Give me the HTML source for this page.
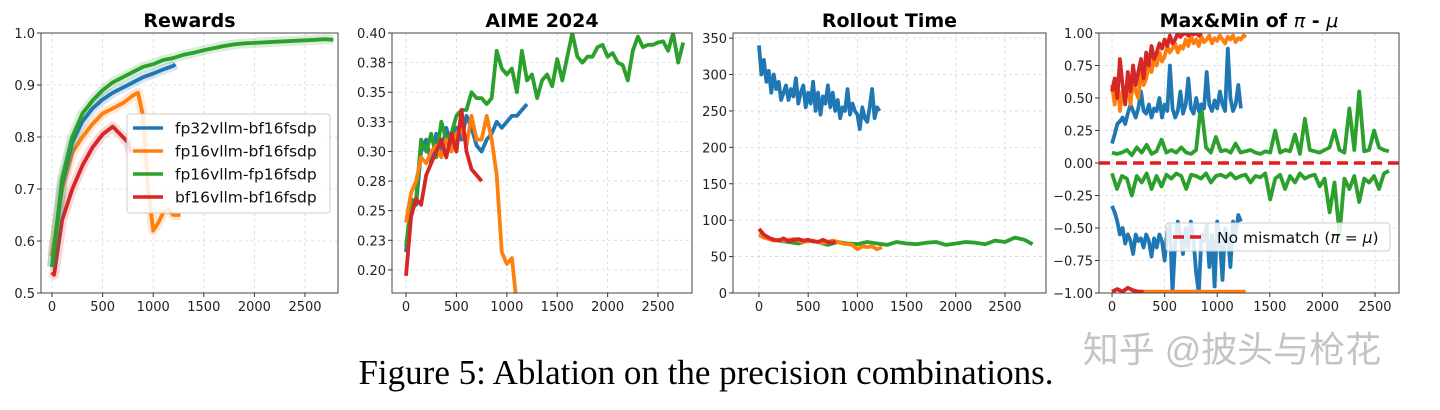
<!DOCTYPE html>
<html><head><meta charset="utf-8"><style>
body{margin:0;background:#fff;width:1440px;height:410px;overflow:hidden}
svg{display:block}
text{font-family:"DejaVu Sans","Liberation Sans",sans-serif}
</style></head><body>
<svg id="fig" width="1440" height="410">
<text x="706" y="384" text-anchor="middle" style="font-family:'Liberation Serif',serif;font-size:35px" fill="#000">Figure 5: Ablation on the precision combinations.</text>
<text x="1232" y="362" text-anchor="middle" style="font-family:'Liberation Sans','Noto Sans CJK SC',sans-serif;font-size:36px" fill="#c4c4c4">知乎 @披头与枪花</text>
</svg>
<script>
const C={b:'#1f77b4',o:'#ff7f0e',g:'#2ca02c',r:'#d62728'};
// Rewards
const rwX1=[0,100,200,300,400,500,600,700,800,900,1000,1100,1200,1300,1400,1500,1600,1700,1800,1900,2000,2100,2200,2300,2400,2500,2600,2700,2780];
const rwGreen=[0.55,0.72,0.80,0.845,0.87,0.89,0.905,0.915,0.925,0.935,0.94,0.948,0.952,0.958,0.962,0.967,0.971,0.975,0.978,0.98,0.981,0.982,0.983,0.984,0.985,0.986,0.987,0.988,0.987];
const rwBlueX=[0,100,200,300,400,500,600,700,800,900,1000,1100,1200,1220];
const rwBlue=[0.55,0.71,0.79,0.83,0.855,0.872,0.885,0.895,0.905,0.915,0.922,0.93,0.937,0.94];
const rwOrangeX=[0,100,200,300,400,500,600,700,800,850,900,950,1000,1050,1100,1150,1200,1270];
const rwOrange=[0.57,0.70,0.77,0.80,0.825,0.845,0.855,0.865,0.88,0.885,0.84,0.70,0.62,0.635,0.655,0.66,0.65,0.65];
const rwRedX=[0,20,100,200,300,400,500,600,650,700,750,780];
const rwRed=[0.54,0.535,0.64,0.70,0.745,0.78,0.805,0.82,0.81,0.80,0.79,0.77];
// AIME
const aiX=[0,50,100,150,200,250,300,350,400,450,500,550,600,650,700,750,800,850,900,950,1000,1050,1100,1150,1200,1250,1300,1350,1400,1450,1500,1550,1600,1650,1700,1750,1800,1850,1900,1950,2000,2050,2100,2150,2200,2250,2300,2350,2400,2450,2500,2550,2600,2650,2700,2750];
const aiBlue=[0.215,0.26,0.255,0.30,0.31,0.29,0.315,0.30,0.32,0.305,0.32,0.31,0.33,0.32,0.305,0.30,0.31,0.315,0.325,0.32,0.325,0.33,0.33,0.335,0.34];
const aiOrange=[0.24,0.265,0.275,0.295,0.29,0.30,0.305,0.295,0.31,0.30,0.315,0.32,0.305,0.33,0.31,0.31,0.33,0.31,0.28,0.215,0.205,0.21,0.17];
const aiGreen=[0.22,0.255,0.26,0.31,0.30,0.315,0.295,0.325,0.31,0.315,0.33,0.335,0.335,0.35,0.345,0.345,0.34,0.345,0.385,0.37,0.365,0.37,0.35,0.385,0.36,0.365,0.345,0.36,0.365,0.355,0.378,0.36,0.38,0.40,0.38,0.375,0.38,0.38,0.388,0.39,0.38,0.383,0.375,0.373,0.36,0.385,0.397,0.388,0.39,0.39,0.392,0.393,0.385,0.40,0.375,0.392];
const aiRed=[0.195,0.245,0.26,0.255,0.28,0.29,0.30,0.31,0.295,0.315,0.30,0.335,0.30,0.285,0.28,0.275];
// Rollout
const roBlueX=[0,25,50,75,100,125,150,175,200,225,250,275,300,325,350,375,400,425,450,475,500,525,550,575,600,625,650,675,700,725,750,775,800,825,850,875,900,925,950,975,1000,1025,1050,1075,1100,1125,1150,1175,1200,1225];
const roBlue=[340,300,320,290,305,275,300,280,290,265,275,285,265,280,270,295,260,275,285,255,275,260,290,250,275,245,270,260,285,255,275,250,265,240,255,250,280,245,260,250,245,225,255,240,235,255,280,240,255,250];
const roGreenX=[0,100,200,300,400,500,600,700,800,900,1000,1100,1200,1300,1400,1500,1600,1700,1800,1900,2000,2100,2200,2300,2400,2500,2600,2700,2780];
const roGreen=[80,75,72,70,68,72,70,66,70,68,67,70,68,66,70,68,67,69,70,66,68,70,69,67,72,70,76,73,67];
const roOrangeX=[0,50,100,150,200,250,300,350,400,450,500,550,600,650,700,750,800,850,900,950,1000,1050,1100,1150,1200,1250];
const roOrange=[80,76,74,72,73,72,73,74,72,70,71,72,70,69,70,72,70,68,67,66,60,64,63,64,60,63];
const roRedX=[0,50,100,150,200,250,300,350,400,450,500,550,600,650,700,750,780];
const roRed=[88,80,76,73,72,75,71,73,74,72,73,71,70,73,70,69,71];
// Max&Min
const mmGX=[];for(let i=0;i<=56;i++)mmGX.push(i*47);
const mmGreenUp=[0.08,0.07,0.08,0.10,0.06,0.12,0.08,0.14,0.07,0.09,0.18,0.08,0.10,0.08,0.12,0.08,0.07,0.10,0.45,0.12,0.08,0.20,0.09,0.10,0.08,0.15,0.08,0.09,0.10,0.08,0.07,0.09,0.08,0.25,0.08,0.10,0.09,0.22,0.07,0.34,0.10,0.09,0.08,0.10,0.12,0.25,0.10,0.08,0.42,0.10,0.55,0.09,0.10,0.25,0.12,0.10,0.09];
const mmGreenLo=[-0.08,-0.20,-0.10,-0.12,-0.25,-0.10,-0.15,-0.08,-0.20,-0.10,-0.18,-0.09,-0.12,-0.08,-0.10,-0.20,-0.09,-0.10,-0.12,-0.08,-0.15,-0.10,-0.09,-0.11,-0.08,-0.12,-0.10,-0.09,-0.15,-0.10,-0.11,-0.08,-0.28,-0.12,-0.09,-0.20,-0.10,-0.15,-0.08,-0.12,-0.10,-0.09,-0.18,-0.12,-0.38,-0.15,-0.55,-0.12,-0.20,-0.10,-0.30,-0.12,-0.15,-0.10,-0.20,-0.08,-0.06];
const mmBX=[];for(let i=0;i<50;i++)mmBX.push(i*25);
const mmBlueUp=[0.15,0.22,0.30,0.32,0.35,0.30,0.38,0.45,0.40,0.35,0.42,0.55,0.40,0.38,0.45,0.35,0.42,0.40,0.50,0.35,0.45,0.40,0.75,0.42,0.35,0.40,0.55,0.38,0.45,0.65,0.42,0.38,0.50,0.40,0.45,0.42,0.70,0.45,0.40,0.48,0.42,0.55,0.45,0.40,0.88,0.50,0.40,0.45,0.60,0.42];
const mmBlueLo=[-0.33,-0.38,-0.45,-0.55,-0.50,-0.62,-0.55,-0.60,-0.70,-0.55,-0.60,-0.58,-0.65,-0.55,-0.60,-0.72,-0.58,-0.65,-0.55,-0.60,-0.75,-0.52,-0.48,-1.0,-0.60,-0.45,-0.55,-0.70,-0.50,-0.65,-0.45,-0.60,-0.85,-1.0,-0.55,-0.60,-0.48,-0.80,-0.55,-0.95,-0.45,-0.60,-0.90,-0.50,-0.55,-0.80,-0.45,-0.55,-0.40,-0.45];
const mmOX=[];for(let i=0;i<52;i++)mmOX.push(i*25);
const mmOrangeUp=[0.60,0.45,0.65,0.40,0.55,0.50,0.60,0.45,0.65,0.55,0.50,0.70,0.60,0.65,0.75,0.70,0.80,0.75,0.85,0.78,0.82,0.90,0.85,0.88,0.92,0.85,0.90,0.88,0.95,0.90,0.98,0.92,0.95,0.90,0.97,0.93,0.95,0.98,0.92,0.96,0.94,0.98,0.95,0.92,0.97,0.95,0.98,0.93,0.96,0.95,0.98,0.97];
const mmRX=[];for(let i=0;i<35;i++)mmRX.push(i*25);
const mmRedUp=[0.55,0.65,0.50,0.80,0.60,0.45,0.70,0.55,0.75,0.60,0.70,0.80,0.65,0.85,0.75,0.90,0.80,0.85,0.92,0.88,0.95,0.90,0.98,0.92,0.95,1.0,0.97,0.99,1.0,0.98,1.0,0.99,1.0,0.98,1.0];
const mmLoX=[0,50,100,150,200,250,300,400,600,800,1000,1270];
const mmOrangeLo=[-0.99,-0.97,-0.99,-0.96,-0.98,-0.99,-0.99,-0.99,-0.99,-0.99,-0.99,-0.99];

const svg=document.getElementById('fig');
const NS='http://www.w3.org/2000/svg';
function mk(tag,attrs,parent){const e=document.createElementNS(NS,tag);for(const k in attrs)e.setAttribute(k,attrs[k]);(parent||svg).appendChild(e);return e;}

function panel(p){
  const g=mk('g',{});
  
  
  const sx=v=>p.L+(v-p.xmin)/(p.xmax-p.xmin)*(p.R-p.L);
  const sy=v=>p.B-(v-p.ymin)/(p.ymax-p.ymin)*(p.B-p.T);
  const clipId='c'+p.name;
  const cp=mk('clipPath',{id:clipId},g);mk('rect',{x:p.L,y:p.T,width:p.R-p.L,height:p.B-p.T},cp);
  [0,500,1000,1500,2000,2500].forEach(t=>{
    const x=sx(t);
    const gl=mk('line',{x1:x,x2:x,y1:p.T,y2:p.B,stroke:'#d8d8d8','stroke-dasharray':'3,3','stroke-width':0.8},g);
    
    mk('line',{x1:x,x2:x,y1:p.B,y2:p.B+4,stroke:'#333'},g);
    const tx=mk('text',{x:x,y:p.B+18,'text-anchor':'middle','font-size':13,fill:'#222'},g);tx.textContent=t;
    
  });
  p.yt.forEach((t,i)=>{
    const y=sy(t);
    const gl=mk('line',{x1:p.L,x2:p.R,y1:y,y2:y,stroke:'#d8d8d8','stroke-dasharray':'3,3','stroke-width':0.8},g);
    
    mk('line',{x1:p.L-4,x2:p.L,y1:y,y2:y,stroke:'#333'},g);
    const tx=mk('text',{x:p.L-6,y:y+5,'text-anchor':'end','font-size':13,fill:'#222'},g);tx.textContent=p.ytl[i];
    
  });
  const lg=mk('g',{'clip-path':'url(#'+clipId+')'},g);
  p.series.forEach(s=>{
    const d=s.y.map((v,i)=>(i?'L':'M')+sx(s.x[i]).toFixed(1)+','+sy(v).toFixed(1)).join('');
    if(s.faint){const f=mk('path',{d:d,fill:'none',stroke:s.c,'stroke-width':10,opacity:0.18,'stroke-linejoin':'round'},lg);
      }
    const e=mk('path',{d:d,fill:'none',stroke:s.c,'stroke-width':s.w||3.8,'stroke-linejoin':'round'},lg);
    
  });
  mk('rect',{x:p.L,y:p.T,width:p.R-p.L,height:p.B-p.T,fill:'none',stroke:'#444','stroke-width':1},g);
  const ti=mk('text',{x:(p.L+p.R)/2,y:27,'text-anchor':'middle','font-size':19,'font-weight':'bold',fill:'#000'},g);
  ti.innerHTML=p.title;
  
  return {g,sx,sy};
}
function X(n,a){return a.slice(0,n);}

panel({name:'rewards-chart',L:41,R:338,T:33,B:293,xmin:-109,xmax:2826,ymin:0.5,ymax:1.0,
 yt:[0.5,0.6,0.7,0.8,0.9,1.0],ytl:['0.5','0.6','0.7','0.8','0.9','1.0'],title:'Rewards',
 series:[{x:rwOrangeX,y:rwOrange,c:C.o,n:'line-fp16vllm-bf16fsdp',faint:1},{x:rwRedX,y:rwRed,c:C.r,n:'line-bf16vllm-bf16fsdp',faint:1},{x:rwBlueX,y:rwBlue,c:C.b,n:'line-fp32vllm-bf16fsdp',faint:1},{x:rwX1,y:rwGreen,c:C.g,n:'line-fp16vllm-fp16fsdp',faint:1}]});
(function(){
 const g=mk('g',{});
 mk('rect',{x:127,y:114,width:203,height:99,rx:3,fill:'#fff','fill-opacity':0.85,stroke:'#ccc'},g);
 const names=['fp32vllm-bf16fsdp','fp16vllm-bf16fsdp','fp16vllm-fp16fsdp','bf16vllm-bf16fsdp'];const cs=[C.b,C.o,C.g,C.r];
 names.forEach((n,i)=>{const y=128+i*23;
  const e=mk('g',{},g);
  mk('line',{x1:133,x2:163,y1:y,y2:y,stroke:cs[i],'stroke-width':3.5},e);
  const t=mk('text',{x:175,y:y+5.5,'font-size':15.5,fill:'#111'},e);t.textContent=n;});
})();
panel({name:'aime-chart',L:392,R:692,T:33,B:293,xmin:-139,xmax:2837,ymin:0.1805,ymax:0.40,
 yt:[0.2,0.225,0.25,0.275,0.3,0.325,0.35,0.375,0.4],ytl:['0.20','0.23','0.25','0.28','0.30','0.33','0.35','0.38','0.40'],title:'AIME 2024',
 series:[{x:X(aiBlue.length,aiX),y:aiBlue,c:C.b,n:'line-fp32vllm-bf16fsdp'},{x:X(aiGreen.length,aiX),y:aiGreen,c:C.g,n:'line-fp16vllm-fp16fsdp'},{x:X(aiOrange.length,aiX),y:aiOrange,c:C.o,n:'line-fp16vllm-bf16fsdp'},{x:X(aiRed.length,aiX),y:aiRed,c:C.r,n:'line-bf16vllm-bf16fsdp'}]});
panel({name:'rollout-time-chart',L:733,R:1046,T:33,B:293,xmin:-264,xmax:2917,ymin:0,ymax:357,
 yt:[0,50,100,150,200,250,300,350],ytl:['0','50','100','150','200','250','300','350'],title:'Rollout Time',
 series:[{x:roBlueX,y:roBlue,c:C.b,n:'line-fp32vllm-bf16fsdp'},{x:roGreenX,y:roGreen,c:C.g,n:'line-fp16vllm-fp16fsdp'},{x:roOrangeX,y:roOrange,c:C.o,n:'line-fp16vllm-bf16fsdp'},{x:roRedX,y:roRed,c:C.r,n:'line-bf16vllm-bf16fsdp'}]});
const p4=panel({name:'max-min-chart',L:1099,R:1399,T:33,B:293,xmin:-124,xmax:2728,ymin:-1,ymax:1,
 yt:[-1,-0.75,-0.5,-0.25,0,0.25,0.5,0.75,1],ytl:['\u22121.00','\u22120.75','\u22120.50','\u22120.25','0.00','0.25','0.50','0.75','1.00'],title:'Max&amp;Min of <tspan font-style="italic" font-weight="normal">π</tspan> - <tspan font-style="italic" font-weight="normal">μ</tspan>',
 series:[{x:mmGX,y:mmGreenUp,c:C.g,n:'line-green-max'},{x:mmGX,y:mmGreenLo,c:C.g,n:'line-green-min'},{x:mmBX,y:mmBlueUp,c:C.b,n:'line-blue-max'},{x:mmBX,y:mmBlueLo,c:C.b,n:'line-blue-min'},{x:mmOX,y:mmOrangeUp,c:C.o,n:'line-orange-max'},{x:mmRX,y:mmRedUp,c:C.r,n:'line-red-max'},{x:mmLoX,y:mmOrangeLo,c:C.o,n:'line-orange-min'},{x:X(7,mmLoX),y:X(7,mmOrangeLo),c:C.r,n:'line-red-min'}]});
(function(){
 const y=p4.sy(0);
 const l=mk('line',{x1:1099,x2:1399,y1:y,y2:y,stroke:'#e41a1c','stroke-width':3.5,'stroke-dasharray':'11,6'});
 
 const g=mk('g',{});
 mk('rect',{x:1166,y:223,width:224,height:28,rx:3,fill:'#fff','fill-opacity':0.85,stroke:'#ccc'},g);
 mk('line',{x1:1173,x2:1205,y1:237,y2:237,stroke:'#e41a1c','stroke-width':3.5,'stroke-dasharray':'11,6'},g);
 const t=mk('text',{x:1217,y:243,'font-size':15.5,fill:'#111'},g);
 t.innerHTML='No mismatch (<tspan font-style="italic">π</tspan> = <tspan font-style="italic">μ</tspan>)';
})();
</script>
</body></html>
